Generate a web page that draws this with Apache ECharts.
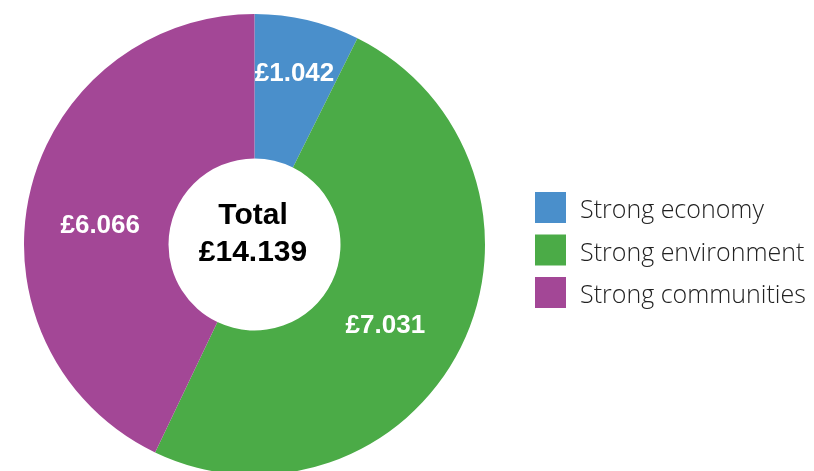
<!DOCTYPE html>
<html>
<head>
<meta charset="utf-8">
<style>
  html, body { margin: 0; padding: 0; background: #ffffff; }
  #chart { width: 814px; height: 471px; }
</style>
<script src="https://cdn.jsdelivr.net/npm/echarts@6/dist/echarts.min.js"></script>
</head>
<body>
<div id="chart"></div>
<script>
// Spending by priority (£)
const categories = ['Strong economy', 'Strong environment', 'Strong communities'];
const values = [1.042, 7.031, 6.066];
const totalLabel = '£14.139';
const colors = ['#4a8fcb', '#4bab47', '#a34796'];

// nudges for the in-slice value labels
const labelNudge = [[3, -14], [-14, 11], [3, 17]];

const chart = echarts.init(document.getElementById('chart'), null, { renderer: 'canvas' });

const legendFont = {
  fontFamily: '"Open Sans", Roboto, "Liberation Sans", sans-serif',
  fontWeight: 300,
  fontSize: 25,
  color: '#222222'
};

chart.setOption({
  animation: false,
  color: colors,
  legend: {
    orient: 'vertical',
    left: 530,
    top: 187,
    itemWidth: 31,
    itemHeight: 31,
    itemGap: 11,
    icon: 'rect',
    formatter: name => '{t|' + name + '}',
    textStyle: Object.assign({
      rich: {
        t: Object.assign({ padding: [7, 0, 0, 9] }, legendFont)
      }
    }, legendFont),
    data: categories
  },
  graphic: [{
    type: 'text',
    x: 253,
    y: 234,
    style: {
      text: 'Total\n' + totalLabel,
      fill: '#000000',
      font: 'bold 30px "Liberation Sans", Arial, sans-serif',
      lineHeight: 37,
      align: 'center',
      verticalAlign: 'middle'
    },
    z: 100
  }],
  series: [{
    type: 'pie',
    center: [254.5, 244.5],
    radius: [86, 230.5],
    startAngle: 90,
    clockwise: true,
    avoidLabelOverlap: false,
    label: {
      show: true,
      position: 'inside',
      color: '#ffffff',
      fontFamily: '"Liberation Sans", Arial, sans-serif',
      fontWeight: 'bold',
      fontSize: 26,
      formatter: p => '£' + p.value.toFixed(3)
    },
    labelLine: { show: false },
    labelLayout: p => ({ dx: labelNudge[p.dataIndex][0], dy: labelNudge[p.dataIndex][1] }),
    emphasis: { disabled: true },
    itemStyle: { borderWidth: 0 },
    data: categories.map((name, i) => ({ name, value: values[i] }))
  }]
});
</script>
</body>
</html>
